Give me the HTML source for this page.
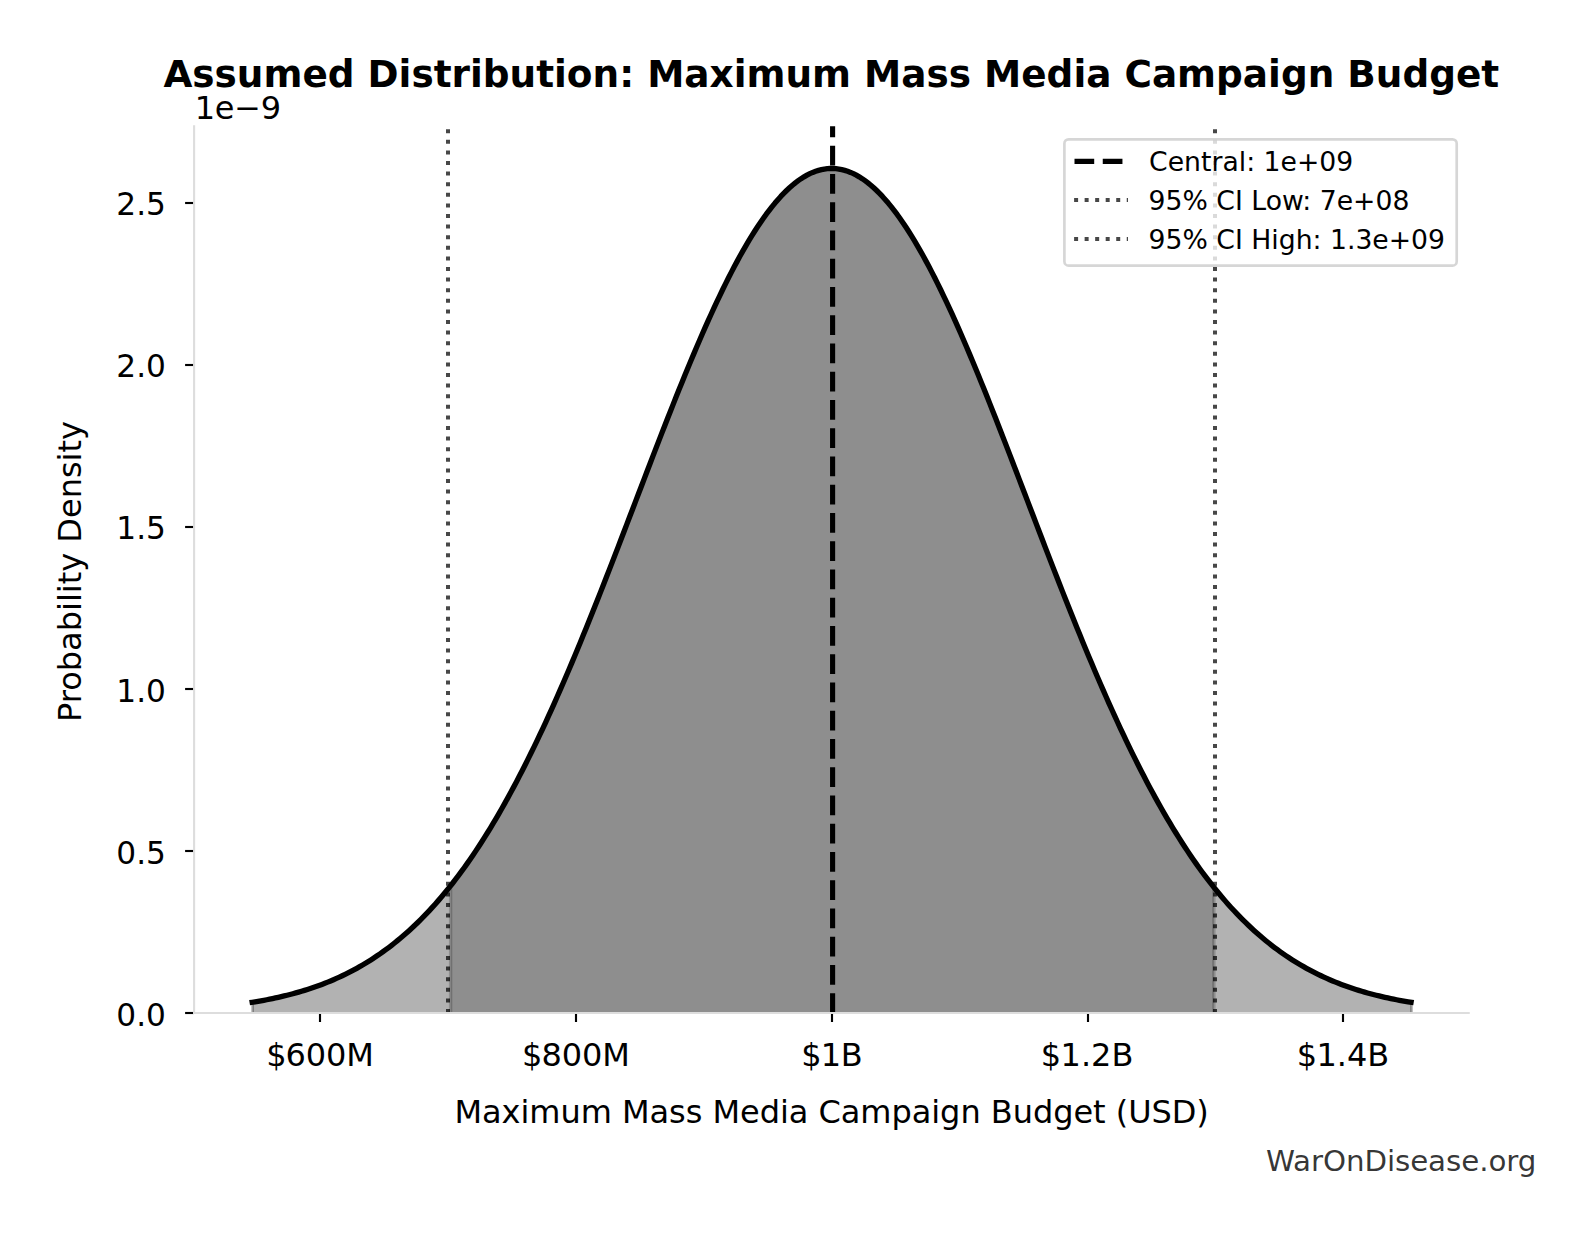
<!DOCTYPE html>
<html lang="en"><head><meta charset="utf-8"><title>Assumed Distribution: Maximum Mass Media Campaign Budget</title>
<style>html,body{margin:0;padding:0;background:#fff;}svg{display:block;}text{font-family:"DejaVu Sans","Liberation Sans",sans-serif;}</style></head><body>
<svg width="1593" height="1234" viewBox="0 0 1593 1234">
<rect width="1593" height="1234" fill="#fff"/>
<path d="M252.60 1012.90 L252.60 1002.25 L255.50 1001.77 L258.41 1001.27 L261.31 1000.76 L264.22 1000.22 L267.12 999.67 L270.03 999.09 L272.93 998.49 L275.84 997.87 L278.74 997.23 L281.65 996.56 L284.55 995.87 L287.45 995.15 L290.36 994.40 L293.26 993.63 L296.17 992.83 L299.07 992.00 L301.98 991.14 L304.88 990.25 L307.79 989.34 L310.69 988.38 L313.59 987.40 L316.50 986.38 L319.40 985.33 L322.31 984.24 L325.21 983.12 L328.12 981.96 L331.02 980.76 L333.93 979.52 L336.83 978.24 L339.74 976.92 L342.64 975.56 L345.54 974.15 L348.45 972.70 L351.35 971.21 L354.26 969.67 L357.16 968.08 L360.07 966.45 L362.97 964.76 L365.88 963.03 L368.78 961.24 L371.68 959.40 L374.59 957.51 L377.49 955.57 L380.40 953.57 L383.30 951.51 L386.21 949.40 L389.11 947.22 L392.02 944.99 L394.92 942.70 L397.83 940.35 L400.73 937.93 L403.63 935.45 L406.54 932.91 L409.44 930.30 L412.35 927.62 L415.25 924.88 L418.16 922.07 L421.06 919.19 L423.97 916.24 L426.87 913.22 L429.78 910.13 L432.68 906.96 L435.58 903.72 L438.49 900.41 L441.39 897.02 L444.30 893.56 L447.20 890.02 L450.11 886.40 L453.01 882.70 L455.92 878.93 L458.82 875.08 L461.72 871.14 L464.63 867.13 L467.53 863.04 L470.44 858.86 L473.34 854.61 L476.25 850.27 L479.15 845.85 L482.06 841.35 L484.96 836.76 L487.87 832.09 L490.77 827.34 L493.67 822.51 L496.58 817.59 L499.48 812.60 L502.39 807.51 L505.29 802.35 L508.20 797.10 L511.10 791.77 L514.01 786.36 L516.91 780.87 L519.82 775.30 L522.72 769.65 L525.62 763.91 L528.53 758.10 L531.43 752.21 L534.34 746.24 L537.24 740.20 L540.15 734.08 L543.05 727.88 L545.96 721.62 L548.86 715.28 L551.76 708.87 L554.67 702.38 L557.57 695.83 L560.48 689.22 L563.38 682.54 L566.29 675.79 L569.19 668.98 L572.10 662.12 L575.00 655.19 L577.91 648.21 L580.81 641.17 L583.71 634.08 L586.62 626.94 L589.52 619.75 L592.43 612.52 L595.33 605.24 L598.24 597.92 L601.14 590.57 L604.05 583.17 L606.95 575.75 L609.85 568.29 L612.76 560.81 L615.66 553.30 L618.57 545.77 L621.47 538.22 L624.38 530.66 L627.28 523.08 L630.19 515.49 L633.09 507.90 L636.00 500.30 L638.90 492.70 L641.80 485.11 L644.71 477.52 L647.61 469.95 L650.52 462.39 L653.42 454.84 L656.33 447.32 L659.23 439.82 L662.14 432.35 L665.04 424.91 L667.95 417.51 L670.85 410.14 L673.75 402.82 L676.66 395.55 L679.56 388.33 L682.47 381.16 L685.37 374.05 L688.28 367.01 L691.18 360.02 L694.09 353.11 L696.99 346.27 L699.89 339.51 L702.80 332.83 L705.70 326.24 L708.61 319.73 L711.51 313.32 L714.42 307.00 L717.32 300.78 L720.23 294.67 L723.13 288.66 L726.04 282.76 L728.94 276.98 L731.84 271.31 L734.75 265.77 L737.65 260.35 L740.56 255.05 L743.46 249.89 L746.37 244.86 L749.27 239.97 L752.18 235.22 L755.08 230.61 L757.98 226.14 L760.89 221.83 L763.79 217.67 L766.70 213.66 L769.60 209.80 L772.51 206.11 L775.41 202.58 L778.32 199.21 L781.22 196.00 L784.13 192.97 L787.03 190.10 L789.93 187.41 L792.84 184.89 L795.74 182.54 L798.65 180.37 L801.55 178.38 L804.46 176.57 L807.36 174.94 L810.27 173.49 L813.17 172.22 L816.08 171.14 L818.98 170.24 L821.88 169.52 L824.79 168.99 L827.69 168.65 L830.60 168.49 L833.50 168.52 L836.41 168.73 L839.31 169.13 L842.22 169.71 L845.12 170.48 L848.02 171.43 L850.93 172.57 L853.83 173.89 L856.74 175.39 L859.64 177.08 L862.55 178.94 L865.45 180.98 L868.36 183.20 L871.26 185.60 L874.17 188.17 L877.07 190.91 L879.97 193.83 L882.88 196.91 L885.78 200.17 L888.69 203.58 L891.59 207.16 L894.50 210.90 L897.40 214.80 L900.31 218.85 L903.21 223.06 L906.12 227.42 L909.02 231.93 L911.92 236.58 L914.83 241.37 L917.73 246.30 L920.64 251.37 L923.54 256.57 L926.45 261.90 L929.35 267.36 L932.26 272.94 L935.16 278.64 L938.06 284.46 L940.97 290.39 L943.87 296.43 L946.78 302.57 L949.68 308.82 L952.59 315.17 L955.49 321.61 L958.40 328.14 L961.30 334.76 L964.21 341.46 L967.11 348.24 L970.01 355.10 L972.92 362.04 L975.82 369.04 L978.73 376.10 L981.63 383.23 L984.54 390.41 L987.44 397.65 L990.35 404.94 L993.25 412.27 L996.15 419.64 L999.06 427.06 L1001.96 434.51 L1004.87 441.98 L1007.77 449.49 L1010.68 457.02 L1013.58 464.57 L1016.49 472.14 L1019.39 479.72 L1022.30 487.30 L1025.20 494.90 L1028.10 502.50 L1031.01 510.09 L1033.91 517.69 L1036.82 525.27 L1039.72 532.85 L1042.63 540.41 L1045.53 547.95 L1048.44 555.47 L1051.34 562.98 L1054.25 570.45 L1057.15 577.90 L1060.05 585.32 L1062.96 592.70 L1065.86 600.04 L1068.77 607.35 L1071.67 614.62 L1074.58 621.84 L1077.48 629.01 L1080.39 636.14 L1083.29 643.21 L1086.19 650.23 L1089.10 657.20 L1092.00 664.11 L1094.91 670.96 L1097.81 677.75 L1100.72 684.48 L1103.62 691.14 L1106.53 697.74 L1109.43 704.27 L1112.34 710.73 L1115.24 717.12 L1118.14 723.44 L1121.05 729.68 L1123.95 735.86 L1126.86 741.95 L1129.76 747.98 L1132.67 753.92 L1135.57 759.79 L1138.48 765.58 L1141.38 771.29 L1144.28 776.92 L1147.19 782.47 L1150.09 787.94 L1153.00 793.32 L1155.90 798.63 L1158.81 803.85 L1161.71 808.99 L1164.62 814.05 L1167.52 819.02 L1170.43 823.92 L1173.33 828.73 L1176.23 833.45 L1179.14 838.10 L1182.04 842.66 L1184.95 847.14 L1187.85 851.53 L1190.76 855.85 L1193.66 860.08 L1196.57 864.23 L1199.47 868.30 L1202.38 872.29 L1205.28 876.20 L1208.18 880.03 L1211.09 883.78 L1213.99 887.45 L1216.90 891.05 L1219.80 894.57 L1222.71 898.01 L1225.61 901.37 L1228.52 904.67 L1231.42 907.88 L1234.32 911.03 L1237.23 914.10 L1240.13 917.10 L1243.04 920.03 L1245.94 922.89 L1248.85 925.68 L1251.75 928.40 L1254.66 931.06 L1257.56 933.65 L1260.47 936.17 L1263.37 938.64 L1266.27 941.03 L1269.18 943.37 L1272.08 945.64 L1274.99 947.86 L1277.89 950.01 L1280.80 952.11 L1283.70 954.15 L1286.61 956.14 L1289.51 958.06 L1292.42 959.94 L1295.32 961.76 L1298.22 963.53 L1301.13 965.25 L1304.03 966.92 L1306.94 968.54 L1309.84 970.12 L1312.75 971.64 L1315.65 973.13 L1318.56 974.56 L1321.46 975.95 L1324.36 977.30 L1327.27 978.61 L1330.17 979.88 L1333.08 981.11 L1335.98 982.30 L1338.89 983.45 L1341.79 984.56 L1344.70 985.64 L1347.60 986.68 L1350.51 987.69 L1353.41 988.66 L1356.31 989.60 L1359.22 990.51 L1362.12 991.39 L1365.03 992.24 L1367.93 993.06 L1370.84 993.86 L1373.74 994.62 L1376.65 995.36 L1379.55 996.07 L1382.45 996.76 L1385.36 997.42 L1388.26 998.05 L1391.17 998.67 L1394.07 999.26 L1396.98 999.83 L1399.88 1000.38 L1402.79 1000.91 L1405.69 1001.42 L1408.60 1001.91 L1411.50 1002.38 L1411.50 1012.90 Z" fill="#000" fill-opacity="0.3"/>
<path d="M252.60 1012.90 V1002.25" stroke="#000" stroke-opacity="0.3" stroke-width="2.67" fill="none"/>
<path d="M1411.50 1012.90 V1002.38" stroke="#000" stroke-opacity="0.3" stroke-width="2.67" fill="none"/>
<path d="M450.60 1012.90 L450.60 885.78 L452.60 883.23 L455.51 879.46 L458.41 875.62 L461.32 871.70 L464.22 867.70 L467.13 863.62 L470.03 859.45 L472.94 855.21 L475.84 850.88 L478.74 846.47 L481.65 841.98 L484.55 837.41 L487.46 832.76 L490.36 828.02 L493.27 823.20 L496.17 818.29 L499.07 813.30 L501.98 808.23 L504.88 803.08 L507.79 797.85 L510.69 792.53 L513.60 787.13 L516.50 781.65 L519.41 776.09 L522.31 770.45 L525.21 764.73 L528.12 758.92 L531.02 753.05 L533.93 747.09 L536.83 741.06 L539.74 734.95 L542.64 728.76 L545.55 722.51 L548.45 716.18 L551.35 709.78 L554.26 703.30 L557.16 696.76 L560.07 690.16 L562.97 683.49 L565.88 676.75 L568.78 669.95 L571.69 663.09 L574.59 656.17 L577.49 649.20 L580.40 642.17 L583.30 635.09 L586.21 627.95 L589.11 620.77 L592.02 613.55 L594.92 606.28 L597.82 598.96 L600.73 591.61 L603.63 584.23 L606.54 576.80 L609.44 569.35 L612.35 561.87 L615.25 554.37 L618.16 546.84 L621.06 539.30 L623.96 531.73 L626.87 524.16 L629.77 516.57 L632.68 508.98 L635.58 501.38 L638.49 493.78 L641.39 486.19 L644.30 478.60 L647.20 471.03 L650.10 463.46 L653.01 455.91 L655.91 448.39 L658.82 440.89 L661.72 433.41 L664.63 425.97 L667.53 418.56 L670.44 411.19 L673.34 403.87 L676.24 396.59 L679.15 389.36 L682.05 382.18 L684.96 375.06 L687.86 368.01 L690.77 361.02 L693.67 354.10 L696.57 347.25 L699.48 340.48 L702.38 333.79 L705.29 327.18 L708.19 320.66 L711.10 314.23 L714.00 307.90 L716.91 301.67 L719.81 295.54 L722.71 289.52 L725.62 283.60 L728.52 277.80 L731.43 272.12 L734.33 266.56 L737.24 261.12 L740.14 255.81 L743.05 250.62 L745.95 245.58 L748.85 240.66 L751.76 235.89 L754.66 231.26 L757.57 226.78 L760.47 222.44 L763.38 218.26 L766.28 214.22 L769.19 210.35 L772.09 206.63 L774.99 203.08 L777.90 199.68 L780.80 196.46 L783.71 193.40 L786.61 190.51 L789.52 187.79 L792.42 185.24 L795.32 182.87 L798.23 180.68 L801.13 178.66 L804.04 176.82 L806.94 175.16 L809.85 173.69 L812.75 172.39 L815.66 171.28 L818.56 170.36 L821.46 169.62 L824.37 169.06 L827.27 168.69 L830.18 168.50 L833.08 168.50 L835.99 168.69 L838.89 169.06 L841.80 169.62 L844.70 170.36 L847.60 171.28 L850.51 172.39 L853.41 173.69 L856.32 175.16 L859.22 176.82 L862.13 178.66 L865.03 180.68 L867.94 182.87 L870.84 185.24 L873.74 187.79 L876.65 190.51 L879.55 193.40 L882.46 196.46 L885.36 199.68 L888.27 203.08 L891.17 206.63 L894.07 210.35 L896.98 214.22 L899.88 218.26 L902.79 222.44 L905.69 226.78 L908.60 231.26 L911.50 235.89 L914.41 240.66 L917.31 245.58 L920.21 250.62 L923.12 255.81 L926.02 261.12 L928.93 266.56 L931.83 272.12 L934.74 277.80 L937.64 283.60 L940.55 289.52 L943.45 295.54 L946.35 301.67 L949.26 307.90 L952.16 314.23 L955.07 320.66 L957.97 327.18 L960.88 333.79 L963.78 340.48 L966.69 347.25 L969.59 354.10 L972.49 361.02 L975.40 368.01 L978.30 375.06 L981.21 382.18 L984.11 389.36 L987.02 396.59 L989.92 403.87 L992.82 411.19 L995.73 418.56 L998.63 425.97 L1001.54 433.41 L1004.44 440.89 L1007.35 448.39 L1010.25 455.91 L1013.16 463.46 L1016.06 471.03 L1018.96 478.60 L1021.87 486.19 L1024.77 493.78 L1027.68 501.38 L1030.58 508.98 L1033.49 516.57 L1036.39 524.16 L1039.30 531.73 L1042.20 539.30 L1045.10 546.84 L1048.01 554.37 L1050.91 561.87 L1053.82 569.35 L1056.72 576.80 L1059.63 584.23 L1062.53 591.61 L1065.44 598.96 L1068.34 606.28 L1071.24 613.55 L1074.15 620.77 L1077.05 627.95 L1079.96 635.09 L1082.86 642.17 L1085.77 649.20 L1088.67 656.17 L1091.57 663.09 L1094.48 669.95 L1097.38 676.75 L1100.29 683.49 L1103.19 690.16 L1106.10 696.76 L1109.00 703.30 L1111.91 709.78 L1114.81 716.18 L1117.71 722.51 L1120.62 728.76 L1123.52 734.95 L1126.43 741.06 L1129.33 747.09 L1132.24 753.05 L1135.14 758.92 L1138.05 764.73 L1140.95 770.45 L1143.85 776.09 L1146.76 781.65 L1149.66 787.13 L1152.57 792.53 L1155.47 797.85 L1158.38 803.08 L1161.28 808.23 L1164.19 813.30 L1167.09 818.29 L1169.99 823.20 L1172.90 828.02 L1175.80 832.76 L1178.71 837.41 L1181.61 841.98 L1184.52 846.47 L1187.42 850.88 L1190.32 855.21 L1193.23 859.45 L1196.13 863.62 L1199.04 867.70 L1201.94 871.70 L1204.85 875.62 L1207.75 879.46 L1210.66 883.23 L1213.56 886.91 L1213.90 887.34 L1213.90 1012.90 Z" fill="#000" fill-opacity="0.2"/>
<path d="M450.60 1012.90 V885.78" stroke="#000" stroke-opacity="0.2" stroke-width="3.4" fill="none"/>
<path d="M1213.90 1012.90 V887.34" stroke="#000" stroke-opacity="0.2" stroke-width="3.4" fill="none"/>
<path d="M252.20 1002.31 L255.10 1001.84 L258.01 1001.34 L260.91 1000.83 L263.82 1000.30 L266.72 999.75 L269.63 999.17 L272.53 998.58 L275.44 997.96 L278.34 997.32 L281.24 996.65 L284.15 995.96 L287.05 995.25 L289.96 994.51 L292.86 993.74 L295.77 992.94 L298.67 992.12 L301.57 991.26 L304.48 990.38 L307.38 989.46 L310.29 988.52 L313.19 987.54 L316.10 986.52 L319.00 985.48 L321.91 984.39 L324.81 983.28 L327.71 982.12 L330.62 980.93 L333.52 979.69 L336.43 978.42 L339.33 977.10 L342.24 975.75 L345.14 974.35 L348.05 972.91 L350.95 971.42 L353.85 969.88 L356.76 968.30 L359.66 966.68 L362.57 965.00 L365.47 963.27 L368.38 961.49 L371.28 959.66 L374.19 957.78 L377.09 955.84 L379.99 953.85 L382.90 951.80 L385.80 949.69 L388.71 947.53 L391.61 945.31 L394.52 943.02 L397.42 940.68 L400.32 938.27 L403.23 935.80 L406.13 933.27 L409.04 930.67 L411.94 928.00 L414.85 925.27 L417.75 922.47 L420.66 919.60 L423.56 916.66 L426.46 913.65 L429.37 910.56 L432.27 907.41 L435.18 904.18 L438.08 900.88 L440.99 897.50 L443.89 894.05 L446.80 890.52 L449.70 886.91 L452.60 883.23 L455.51 879.46 L458.41 875.62 L461.32 871.70 L464.22 867.70 L467.13 863.62 L470.03 859.45 L472.94 855.21 L475.84 850.88 L478.74 846.47 L481.65 841.98 L484.55 837.41 L487.46 832.76 L490.36 828.02 L493.27 823.20 L496.17 818.29 L499.07 813.30 L501.98 808.23 L504.88 803.08 L507.79 797.85 L510.69 792.53 L513.60 787.13 L516.50 781.65 L519.41 776.09 L522.31 770.45 L525.21 764.73 L528.12 758.92 L531.02 753.05 L533.93 747.09 L536.83 741.06 L539.74 734.95 L542.64 728.76 L545.55 722.51 L548.45 716.18 L551.35 709.78 L554.26 703.30 L557.16 696.76 L560.07 690.16 L562.97 683.49 L565.88 676.75 L568.78 669.95 L571.69 663.09 L574.59 656.17 L577.49 649.20 L580.40 642.17 L583.30 635.09 L586.21 627.95 L589.11 620.77 L592.02 613.55 L594.92 606.28 L597.82 598.96 L600.73 591.61 L603.63 584.23 L606.54 576.80 L609.44 569.35 L612.35 561.87 L615.25 554.37 L618.16 546.84 L621.06 539.30 L623.96 531.73 L626.87 524.16 L629.77 516.57 L632.68 508.98 L635.58 501.38 L638.49 493.78 L641.39 486.19 L644.30 478.60 L647.20 471.03 L650.10 463.46 L653.01 455.91 L655.91 448.39 L658.82 440.89 L661.72 433.41 L664.63 425.97 L667.53 418.56 L670.44 411.19 L673.34 403.87 L676.24 396.59 L679.15 389.36 L682.05 382.18 L684.96 375.06 L687.86 368.01 L690.77 361.02 L693.67 354.10 L696.57 347.25 L699.48 340.48 L702.38 333.79 L705.29 327.18 L708.19 320.66 L711.10 314.23 L714.00 307.90 L716.91 301.67 L719.81 295.54 L722.71 289.52 L725.62 283.60 L728.52 277.80 L731.43 272.12 L734.33 266.56 L737.24 261.12 L740.14 255.81 L743.05 250.62 L745.95 245.58 L748.85 240.66 L751.76 235.89 L754.66 231.26 L757.57 226.78 L760.47 222.44 L763.38 218.26 L766.28 214.22 L769.19 210.35 L772.09 206.63 L774.99 203.08 L777.90 199.68 L780.80 196.46 L783.71 193.40 L786.61 190.51 L789.52 187.79 L792.42 185.24 L795.32 182.87 L798.23 180.68 L801.13 178.66 L804.04 176.82 L806.94 175.16 L809.85 173.69 L812.75 172.39 L815.66 171.28 L818.56 170.36 L821.46 169.62 L824.37 169.06 L827.27 168.69 L830.18 168.50 L833.08 168.50 L835.99 168.69 L838.89 169.06 L841.80 169.62 L844.70 170.36 L847.60 171.28 L850.51 172.39 L853.41 173.69 L856.32 175.16 L859.22 176.82 L862.13 178.66 L865.03 180.68 L867.94 182.87 L870.84 185.24 L873.74 187.79 L876.65 190.51 L879.55 193.40 L882.46 196.46 L885.36 199.68 L888.27 203.08 L891.17 206.63 L894.07 210.35 L896.98 214.22 L899.88 218.26 L902.79 222.44 L905.69 226.78 L908.60 231.26 L911.50 235.89 L914.41 240.66 L917.31 245.58 L920.21 250.62 L923.12 255.81 L926.02 261.12 L928.93 266.56 L931.83 272.12 L934.74 277.80 L937.64 283.60 L940.55 289.52 L943.45 295.54 L946.35 301.67 L949.26 307.90 L952.16 314.23 L955.07 320.66 L957.97 327.18 L960.88 333.79 L963.78 340.48 L966.69 347.25 L969.59 354.10 L972.49 361.02 L975.40 368.01 L978.30 375.06 L981.21 382.18 L984.11 389.36 L987.02 396.59 L989.92 403.87 L992.82 411.19 L995.73 418.56 L998.63 425.97 L1001.54 433.41 L1004.44 440.89 L1007.35 448.39 L1010.25 455.91 L1013.16 463.46 L1016.06 471.03 L1018.96 478.60 L1021.87 486.19 L1024.77 493.78 L1027.68 501.38 L1030.58 508.98 L1033.49 516.57 L1036.39 524.16 L1039.30 531.73 L1042.20 539.30 L1045.10 546.84 L1048.01 554.37 L1050.91 561.87 L1053.82 569.35 L1056.72 576.80 L1059.63 584.23 L1062.53 591.61 L1065.44 598.96 L1068.34 606.28 L1071.24 613.55 L1074.15 620.77 L1077.05 627.95 L1079.96 635.09 L1082.86 642.17 L1085.77 649.20 L1088.67 656.17 L1091.57 663.09 L1094.48 669.95 L1097.38 676.75 L1100.29 683.49 L1103.19 690.16 L1106.10 696.76 L1109.00 703.30 L1111.91 709.78 L1114.81 716.18 L1117.71 722.51 L1120.62 728.76 L1123.52 734.95 L1126.43 741.06 L1129.33 747.09 L1132.24 753.05 L1135.14 758.92 L1138.05 764.73 L1140.95 770.45 L1143.85 776.09 L1146.76 781.65 L1149.66 787.13 L1152.57 792.53 L1155.47 797.85 L1158.38 803.08 L1161.28 808.23 L1164.19 813.30 L1167.09 818.29 L1169.99 823.20 L1172.90 828.02 L1175.80 832.76 L1178.71 837.41 L1181.61 841.98 L1184.52 846.47 L1187.42 850.88 L1190.32 855.21 L1193.23 859.45 L1196.13 863.62 L1199.04 867.70 L1201.94 871.70 L1204.85 875.62 L1207.75 879.46 L1210.66 883.23 L1213.56 886.91 L1216.46 890.52 L1219.37 894.05 L1222.27 897.50 L1225.18 900.88 L1228.08 904.18 L1230.99 907.41 L1233.89 910.56 L1236.80 913.65 L1239.70 916.66 L1242.60 919.60 L1245.51 922.47 L1248.41 925.27 L1251.32 928.00 L1254.22 930.67 L1257.13 933.27 L1260.03 935.80 L1262.94 938.27 L1265.84 940.68 L1268.74 943.02 L1271.65 945.31 L1274.55 947.53 L1277.46 949.69 L1280.36 951.80 L1283.27 953.85 L1286.17 955.84 L1289.07 957.78 L1291.98 959.66 L1294.88 961.49 L1297.79 963.27 L1300.69 965.00 L1303.60 966.68 L1306.50 968.30 L1309.41 969.88 L1312.31 971.42 L1315.21 972.91 L1318.12 974.35 L1321.02 975.75 L1323.93 977.10 L1326.83 978.42 L1329.74 979.69 L1332.64 980.93 L1335.55 982.12 L1338.45 983.28 L1341.35 984.39 L1344.26 985.48 L1347.16 986.52 L1350.07 987.54 L1352.97 988.52 L1355.88 989.46 L1358.78 990.38 L1361.69 991.26 L1364.59 992.12 L1367.49 992.94 L1370.40 993.74 L1373.30 994.51 L1376.21 995.25 L1379.11 995.96 L1382.02 996.65 L1384.92 997.32 L1387.82 997.96 L1390.73 998.58 L1393.63 999.17 L1396.54 999.75 L1399.44 1000.30 L1402.35 1000.83 L1405.25 1001.34 L1408.16 1001.84 L1411.06 1002.31" fill="none" stroke="#000" stroke-width="5.33" stroke-linecap="square" stroke-linejoin="round"/>
<path d="M832.6 1013.00 L832.6 126.20" fill="none" stroke="#000" stroke-width="5.1" stroke-dasharray="19.7 8.55"/>
<path d="M448.00 1013.00 L448.00 126.20" fill="none" stroke="#000" stroke-opacity="0.72" stroke-width="4" stroke-dasharray="4 6.6"/>
<path d="M1215.00 1013.00 L1215.00 126.20" fill="none" stroke="#000" stroke-opacity="0.72" stroke-width="4" stroke-dasharray="4 6.6"/>
<path d="M320.00 1013.00 V1022.00" stroke="#000" stroke-width="2.13"/>
<path d="M576.00 1013.00 V1022.00" stroke="#000" stroke-width="2.13"/>
<path d="M832.00 1013.00 V1022.00" stroke="#000" stroke-width="2.13"/>
<path d="M1088.00 1013.00 V1022.00" stroke="#000" stroke-width="2.13"/>
<path d="M1343.00 1013.00 V1022.00" stroke="#000" stroke-width="2.13"/>
<path d="M194.10 1013.00 H185.10" stroke="#000" stroke-width="2.13"/>
<path d="M194.10 851.00 H185.10" stroke="#000" stroke-width="2.13"/>
<path d="M194.10 689.00 H185.10" stroke="#000" stroke-width="2.13"/>
<path d="M194.10 527.00 H185.10" stroke="#000" stroke-width="2.13"/>
<path d="M194.10 365.00 H185.10" stroke="#000" stroke-width="2.13"/>
<path d="M194.10 203.00 H185.10" stroke="#000" stroke-width="2.13"/>
<path d="M194.10 126.20 V1013.00" stroke="#dddddd" stroke-width="2.13" stroke-linecap="square"/>
<path d="M194.10 1013.00 H1468.70" stroke="#dddddd" stroke-width="2.13" stroke-linecap="square"/>
<text x="320.00" y="1066" dx="0 -0.9 -0.15 -0.15 -0.15" font-size="32" text-anchor="middle" fill="#000">$600M</text>
<text x="575.90" y="1066" dx="0 -0.9 -0.15 -0.15 -0.15" font-size="32" text-anchor="middle" fill="#000">$800M</text>
<text x="832.00" y="1066" dx="0 -0.7 -0.35" font-size="32" text-anchor="middle" fill="#000">$1B</text>
<text x="1087.10" y="1066" dx="0 -0.6 0 0 0" font-size="32" text-anchor="middle" fill="#000">$1.2B</text>
<text x="1343.00" y="1066" dx="0 -0.6 0 0 0" font-size="32" text-anchor="middle" fill="#000">$1.4B</text>
<text x="165.9" y="1026" font-size="32" text-anchor="end" textLength="49.6" lengthAdjust="spacingAndGlyphs" fill="#000">0.0</text>
<text x="165.9" y="864" font-size="32" text-anchor="end" textLength="49.6" lengthAdjust="spacingAndGlyphs" fill="#000">0.5</text>
<text x="165.9" y="702" font-size="32" text-anchor="end" textLength="49.6" lengthAdjust="spacingAndGlyphs" fill="#000">1.0</text>
<text x="165.9" y="539" font-size="32" text-anchor="end" textLength="49.6" lengthAdjust="spacingAndGlyphs" fill="#000">1.5</text>
<text x="165.9" y="377" font-size="32" text-anchor="end" textLength="49.6" lengthAdjust="spacingAndGlyphs" fill="#000">2.0</text>
<text x="165.9" y="215" font-size="32" text-anchor="end" textLength="49.6" lengthAdjust="spacingAndGlyphs" fill="#000">2.5</text>
<text x="194.8" y="119" font-size="32" textLength="86.3" lengthAdjust="spacing" fill="#000">1e−9</text>
<text x="831.65" y="1123" font-size="32" text-anchor="middle" textLength="754.4" lengthAdjust="spacing" fill="#000">Maximum Mass Media Campaign Budget (USD)</text>
<text transform="translate(81,571.5) rotate(-90)" font-size="32" text-anchor="middle" fill="#000">Probability Density</text>
<text x="831.3" y="87" font-size="37.4" font-weight="bold" text-anchor="middle" fill="#000">Assumed Distribution: Maximum Mass Media Campaign Budget</text>
<rect x="1064.40" y="139.30" width="392.30" height="126.30" rx="4.2" ry="4.2" fill="#fff" fill-opacity="0.8" stroke="#cccccc" stroke-opacity="0.8" stroke-width="2.67"/>
<path d="M1074.50 161.4 H1127.83" stroke="#000" stroke-width="5.1" stroke-dasharray="19.7 8.55" fill="none"/>
<path d="M1074.1 200.0 H1128.0" stroke="#000" stroke-opacity="0.72" stroke-width="4" stroke-dasharray="4 6.53" fill="none"/>
<path d="M1074.1 239.0 H1128.0" stroke="#000" stroke-opacity="0.72" stroke-width="4" stroke-dasharray="4 6.53" fill="none"/>
<text x="1149.1" y="171" font-size="26.67" fill="#000">Central: 1e+09</text>
<text x="1148.6" y="210" font-size="26.67" fill="#000">95% CI Low: 7e+08</text>
<text x="1148.6" y="249" font-size="26.67" fill="#000">95% CI High: 1.3e+09</text>
<text transform="translate(1266.1,1170.85) scale(1,0.962)" font-size="29.33" textLength="270.2" lengthAdjust="spacing" fill="#000" fill-opacity="0.8">WarOnDisease.org</text>
</svg></body></html>
